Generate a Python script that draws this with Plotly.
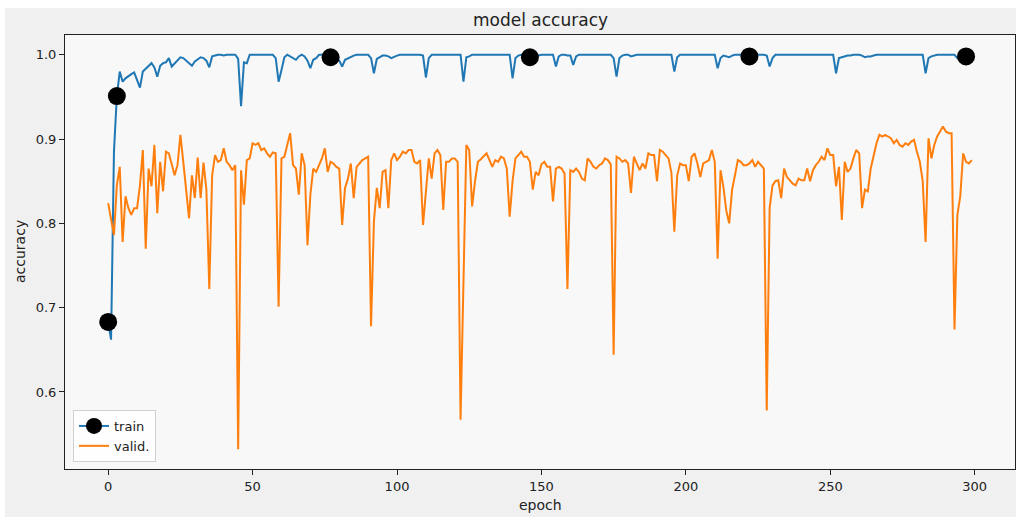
import plotly.graph_objects as go

# ---------------- data ----------------
train_acc = [
    0.683, 0.662, 0.885, 0.951, 0.980, 0.968, 0.972, 0.975, 0.977, 0.979,
    0.970, 0.961, 0.980, 0.983, 0.987, 0.990, 0.985, 0.974, 0.987, 0.990,
    0.991, 0.996, 0.986, 0.990, 0.994, 0.997, 0.996, 0.993, 0.991, 0.987,
    0.992, 0.995, 0.997, 0.996, 0.993, 0.985, 0.998, 0.999, 1.000, 1.000,
    0.999, 1.000, 1.000, 1.000, 1.000, 0.995, 0.939, 0.991, 0.990, 1.000,
    1.000, 1.000, 1.000, 1.000, 1.000, 1.000, 1.000, 1.000, 0.996, 0.968,
    0.982, 0.997, 1.000, 0.998, 0.997, 0.994, 0.998, 1.000, 0.998, 0.993,
    0.984, 0.994, 0.996, 1.000, 1.000, 1.000, 0.999, 0.997, 0.997, 0.996,
    0.993, 0.986, 0.994, 0.996, 0.998, 0.999, 1.000, 1.000, 1.000, 1.000,
    1.000, 0.996, 0.978, 0.995, 0.997, 0.999, 0.999, 0.998, 0.996, 0.998,
    0.999, 1.000, 1.000, 1.000, 1.000, 1.000, 1.000, 1.000, 1.000, 0.999,
    0.973, 0.996, 1.000, 1.000, 1.000, 1.000, 1.000, 1.000, 1.000, 1.000,
    1.000, 1.000, 1.000, 0.968, 0.997, 0.998, 1.000, 1.000, 1.000, 1.000,
    1.000, 1.000, 1.000, 1.000, 1.000, 1.000, 1.000, 1.000, 1.000, 1.000,
    0.972, 0.996, 0.999, 1.000, 1.000, 0.999, 0.997, 0.999, 1.000, 0.999,
    1.000, 1.000, 1.000, 1.000, 1.000, 0.986, 0.998, 1.000, 1.000, 0.999,
    0.999, 0.988, 0.998, 1.000, 1.000, 1.000, 1.000, 1.000, 1.000, 1.000,
    1.000, 1.000, 1.000, 1.000, 1.000, 0.996, 0.974, 0.996, 0.999, 1.000,
    1.000, 0.998, 0.999, 1.000, 1.000, 1.000, 1.000, 1.000, 1.000, 1.000,
    1.000, 1.000, 1.000, 1.000, 1.000, 1.000, 0.980, 0.997, 1.000, 1.000,
    1.000, 1.000, 1.000, 1.000, 1.000, 1.000, 1.000, 1.000, 1.000, 1.000,
    1.000, 0.984, 0.996, 0.999, 0.998, 0.997, 0.999, 1.000, 1.000, 1.000,
    1.000, 0.999, 0.998, 0.999, 1.000, 1.000, 1.000, 1.000, 0.999, 0.986,
    0.996, 1.000, 1.000, 1.000, 1.000, 1.000, 1.000, 1.000, 1.000, 1.000,
    1.000, 1.000, 1.000, 1.000, 1.000, 1.000, 1.000, 1.000, 1.000, 1.000,
    1.000, 1.000, 0.978, 0.996, 0.997, 0.998, 0.999, 0.999, 1.000, 1.000,
    1.000, 0.999, 0.997, 0.998, 0.998, 0.999, 1.000, 1.000, 1.000, 1.000,
    1.000, 1.000, 1.000, 1.000, 1.000, 1.000, 1.000, 1.000, 1.000, 1.000,
    1.000, 1.000, 1.000, 0.978, 0.996, 0.998, 0.999, 1.000, 1.000, 1.000,
    1.000, 1.000, 1.000, 1.000, 0.996, 0.995, 0.995, 0.998, 0.999, 0.999,
]

valid_acc = [
    0.824, 0.805, 0.786, 0.845, 0.867, 0.778, 0.832, 0.818, 0.810, 0.818,
    0.818, 0.845, 0.887, 0.770, 0.865, 0.844, 0.893, 0.812, 0.873, 0.838,
    0.885, 0.883, 0.869, 0.857, 0.869, 0.905, 0.873, 0.838, 0.806, 0.857,
    0.830, 0.878, 0.830, 0.872, 0.840, 0.722, 0.857, 0.881, 0.873, 0.875,
    0.889, 0.873, 0.869, 0.863, 0.869, 0.532, 0.863, 0.822, 0.875, 0.877,
    0.895, 0.893, 0.895, 0.887, 0.889, 0.883, 0.879, 0.884, 0.883, 0.701,
    0.877, 0.879, 0.893, 0.907, 0.869, 0.865, 0.834, 0.883, 0.869, 0.774,
    0.834, 0.865, 0.861, 0.869, 0.877, 0.889, 0.861, 0.873, 0.871, 0.867,
    0.865, 0.798, 0.842, 0.853, 0.871, 0.830, 0.867, 0.871, 0.875, 0.877,
    0.879, 0.678, 0.802, 0.842, 0.818, 0.861, 0.863, 0.818, 0.875, 0.883,
    0.875, 0.879, 0.885, 0.883, 0.887, 0.887, 0.873, 0.871, 0.875, 0.798,
    0.840, 0.877, 0.853, 0.883, 0.887, 0.881, 0.816, 0.873, 0.873, 0.877,
    0.877, 0.873, 0.567, 0.750, 0.893, 0.887, 0.820, 0.850, 0.873, 0.876,
    0.879, 0.883, 0.875, 0.867, 0.875, 0.873, 0.879, 0.877, 0.865, 0.808,
    0.850, 0.877, 0.881, 0.885, 0.879, 0.879, 0.873, 0.840, 0.861, 0.857,
    0.870, 0.873, 0.867, 0.867, 0.826, 0.865, 0.867, 0.865, 0.859, 0.722,
    0.863, 0.861, 0.865, 0.861, 0.853, 0.851, 0.877, 0.873, 0.867, 0.865,
    0.869, 0.871, 0.877, 0.875, 0.870, 0.644, 0.879, 0.877, 0.873, 0.875,
    0.871, 0.836, 0.879, 0.871, 0.863, 0.871, 0.865, 0.883, 0.881, 0.881,
    0.850, 0.887, 0.885, 0.881, 0.877, 0.860, 0.790, 0.857, 0.871, 0.869,
    0.869, 0.850, 0.879, 0.883, 0.871, 0.855, 0.871, 0.873, 0.875, 0.887,
    0.873, 0.758, 0.863, 0.843, 0.815, 0.800, 0.840, 0.857, 0.875, 0.873,
    0.869, 0.869, 0.871, 0.875, 0.867, 0.873, 0.869, 0.865, 0.578, 0.818,
    0.845, 0.850, 0.851, 0.830, 0.865, 0.855, 0.851, 0.847, 0.845, 0.853,
    0.851, 0.851, 0.865, 0.850, 0.863, 0.869, 0.873, 0.879, 0.875, 0.889,
    0.881, 0.881, 0.844, 0.867, 0.804, 0.873, 0.861, 0.865, 0.877, 0.887,
    0.883, 0.818, 0.840, 0.838, 0.865, 0.879, 0.895, 0.905, 0.903, 0.905,
    0.903, 0.901, 0.895, 0.899, 0.893, 0.891, 0.895, 0.893, 0.897, 0.899,
    0.885, 0.873, 0.850, 0.778, 0.901, 0.877, 0.893, 0.903, 0.909, 0.915,
    0.909, 0.907, 0.907, 0.674, 0.810, 0.832, 0.883, 0.873, 0.871, 0.875,
]

marker_epochs = [0, 3, 77, 146, 222, 297]   # where the train markers sit
x_ticks = [0, 50, 100, 150, 200, 250, 300]
y_ticks = [0.6, 0.7, 0.8, 0.9, 1.0]

title_text = "model accuracy"
x_label = "epoch"
y_label = "accuracy"
series_names = ["train", "valid."]

# ---------------- geometry ----------------
W, H = 1016, 517
L, R, T, B = 65, 1, 35, 48
pw, ph = W - L - R, H - T - B

def px_x(px):
    return (px - L) / pw

def px_y(py):
    return (H - B - py) / ph

epochs = list(range(len(train_acc)))
n = len(epochs)
xmin, xmax = 0 - 0.05 * (n - 1), (n - 1) + 0.05 * (n - 1)
ymin_d = min(min(train_acc), min(valid_acc))
ymax_d = max(max(train_acc), max(valid_acc))
span = ymax_d - ymin_d
yr = [ymin_d - 0.05 * span, ymax_d + 0.05 * span]

BLUE = "#1f77b4"
ORANGE = "#ff7f0e"
FONT = "DejaVu Sans"
TXT = "#222"

fig = go.Figure()

# train line (legend entry comes from the marker trace)
fig.add_trace(go.Scatter(
    x=epochs, y=train_acc, mode="lines", name=series_names[0],
    line=dict(color=BLUE, width=2), showlegend=False, legendgroup="train",
))

# markers on the train line (gaps keep the line from joining them)
mx, my = [], []
for e in marker_epochs:
    mx += [epochs[e], None]
    my += [train_acc[e], None]
fig.add_trace(go.Scatter(
    x=mx, y=my, mode="lines+markers", name=series_names[0],
    connectgaps=False, legendgroup="train",
    line=dict(color=BLUE, width=2),
    marker=dict(color="black", size=18, line=dict(width=0)),
))

fig.add_trace(go.Scatter(
    x=epochs, y=valid_acc, mode="lines", name=series_names[1],
    line=dict(color=ORANGE, width=2),
))

# figure face (grey, with the white strip at top/left) and axes face
shapes = [
    dict(type="rect", xref="paper", yref="paper", layer="below",
         x0=px_x(5), x1=px_x(W + 2), y0=px_y(H + 2), y1=px_y(8),
         fillcolor="#f0f0f0", line=dict(width=0)),
    dict(type="rect", xref="paper", yref="paper", layer="below",
         x0=0, x1=1, y0=0, y1=1,
         fillcolor="#f8f8f8", line=dict(width=0)),
]

axis_common = dict(
    showgrid=False, zeroline=False, showline=True, mirror=True,
    linecolor=TXT, linewidth=1, ticks="outside", ticklen=5,
    tickcolor=TXT, tickwidth=1,
    tickfont=dict(family=FONT, size=13, color=TXT),
)

fig.update_layout(
    width=W, height=H,
    margin=dict(l=L, r=R, t=T, b=B, pad=0),
    paper_bgcolor="white", plot_bgcolor="rgba(0,0,0,0)",
    shapes=shapes,
    xaxis=dict(range=[xmin, xmax], tickvals=x_ticks,
               ticktext=[str(v) for v in x_ticks], **axis_common),
    yaxis=dict(range=yr, tickvals=y_ticks,
               ticktext=[f"{v:.1f}" for v in y_ticks], **axis_common),
    showlegend=True,
    legend=dict(
        x=px_x(73), y=px_y(462), xanchor="left", yanchor="bottom",
        bgcolor="rgba(255,255,255,0.85)", bordercolor="#d0d0d0",
        borderwidth=1, font=dict(family=FONT, size=13, color=TXT),
        itemwidth=30, tracegroupgap=0,
    ),
    annotations=[
        dict(text=title_text, xref="paper", yref="paper",
             x=0.5, y=px_y(20), xanchor="center", yanchor="middle",
             showarrow=False, font=dict(family=FONT, size=17, color=TXT)),
        dict(text=x_label, xref="paper", yref="paper",
             x=0.5, y=px_y(505), xanchor="center", yanchor="middle",
             showarrow=False, font=dict(family=FONT, size=14, color=TXT)),
        dict(text=y_label, xref="paper", yref="paper",
             x=px_x(20), y=0.5, xanchor="center", yanchor="middle",
             textangle=-90, showarrow=False,
             font=dict(family=FONT, size=14, color=TXT)),
    ],
)

fig.write_html(
    "out.html",
    config={"displayModeBar": False},
    post_script="document.body.style.margin='0px';"
                "document.body.style.overflow='hidden';",
)
